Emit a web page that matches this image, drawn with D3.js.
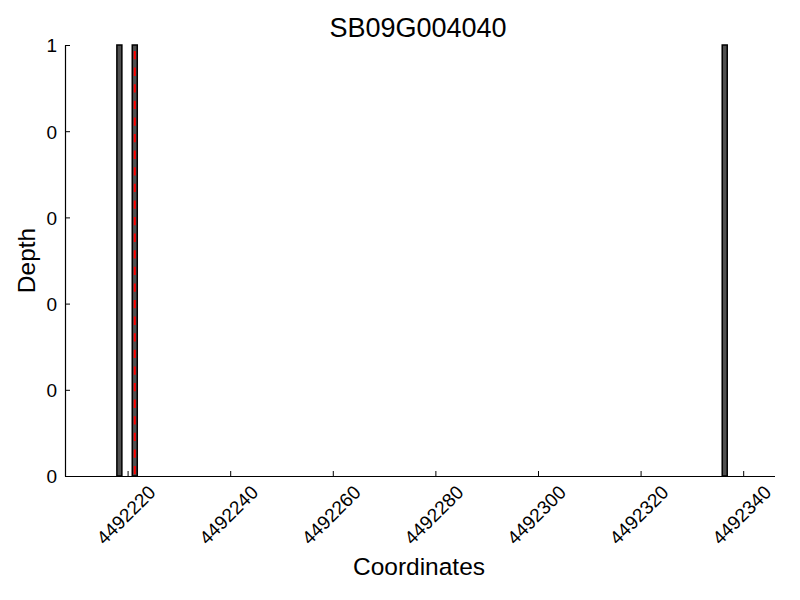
<!DOCTYPE html>
<html>
<head>
<meta charset="utf-8">
<script src="https://cdn.jsdelivr.net/npm/d3@7"></script>
<style>
  html, body { margin: 0; padding: 0; background: #fff; }
  svg { display: block; font-family: "Liberation Sans", Arial, Helvetica, sans-serif; }
</style>
</head>
<body>
<svg id="chart" width="800" height="600"></svg>
<script>
// ---- data ----
const title = "SB09G004040";
const xLabel = "Coordinates";
const yLabel = "Depth";
const positions = [4492218.4, 4492221.4, 4492336.4];
const depths = [1, 1, 1];
const markerPositions = [4492221.4];
const xTickValues = [4492220, 4492240, 4492260, 4492280, 4492300, 4492320, 4492340];
const yTickValues = [0, 0.2, 0.4, 0.6, 0.8, 1];
const xDomain = [4492207.8, 4492346.2];
const yDomain = [0, 1];

// ---- layout ----
const svg = d3.select("#chart");
const plotLeft = 65, plotRight = 775, plotTop = 45, plotBottom = 476;

const x = d3.scaleLinear().domain(xDomain).range([plotLeft, plotRight]);
const y = d3.scaleLinear().domain(yDomain).range([plotBottom, plotTop]);

const barW = 5;

// bars
svg.append("g").selectAll("rect")
  .data(positions.map((p, i) => ({ p, d: depths[i] })))
  .join("rect")
  .attr("x", d => x(d.p) - barW / 2)
  .attr("y", d => y(d.d))
  .attr("width", barW)
  .attr("height", d => y(0) - y(d.d))
  .attr("fill", "#505050")
  .attr("stroke", "#000")
  .attr("stroke-width", 1.5);

// red dashed marker lines
svg.append("g").selectAll("line")
  .data(markerPositions)
  .join("line")
  .attr("x1", d => x(d)).attr("x2", d => x(d))
  .attr("y1", y(1)).attr("y2", y(0))
  .attr("stroke", "#ff0000")
  .attr("stroke-width", 2)
  .attr("stroke-dasharray", "8.3,8.3")
  .attr("stroke-dashoffset", 10.6);

// x axis (ticks inward)
const xAxis = d3.axisBottom(x).tickValues(xTickValues).tickSize(-5).tickSizeOuter(0).tickFormat(d3.format("d"));
const gx = svg.append("g").attr("transform", `translate(0,${plotBottom})`).call(xAxis);
gx.select(".domain").attr("stroke", "#000").attr("stroke-width", 1.2).attr("d", `M${plotLeft},0.5H${plotRight}`);
gx.selectAll(".tick line").attr("stroke", "#000");
gx.selectAll(".tick text")
  .attr("font-size", 19)
  .attr("fill", "#000")
  .attr("text-anchor", "middle")
  .attr("dominant-baseline", "central")
  .attr("dy", null)
  .attr("x", -2)
  .attr("y", 39)
  .attr("transform", "rotate(-45,-2,39)");

// y axis (ticks inward); labels truncated to integers as in the original
const yAxis = d3.axisLeft(y).tickValues(yTickValues).tickSize(-5).tickSizeOuter(0).tickFormat(d => String(Math.trunc(d + 1e-9)));
const gy = svg.append("g").attr("transform", `translate(${plotLeft},0)`).call(yAxis);
gy.select(".domain").attr("stroke", "#000").attr("stroke-width", 1.2);
gy.selectAll(".tick line").attr("stroke", "#000");
gy.selectAll(".tick text")
  .attr("font-size", 19)
  .attr("fill", "#000")
  .attr("x", -8)
  .attr("dy", "0.36em");

// title and labels
svg.append("text")
  .attr("x", (plotLeft + plotRight) / 2 - 2).attr("y", 37)
  .attr("text-anchor", "middle")
  .attr("font-size", 27)
  .attr("fill", "#000")
  .text(title);

svg.append("text")
  .attr("x", (plotLeft + plotRight) / 2 - 1).attr("y", 575)
  .attr("text-anchor", "middle")
  .attr("font-size", 24.5)
  .attr("fill", "#000")
  .text(xLabel);

svg.append("text")
  .attr("transform", `translate(35,${(plotTop + plotBottom) / 2}) rotate(-90)`)
  .attr("text-anchor", "middle")
  .attr("font-size", 24.5)
  .attr("fill", "#000")
  .text(yLabel);
</script>
</body>
</html>
